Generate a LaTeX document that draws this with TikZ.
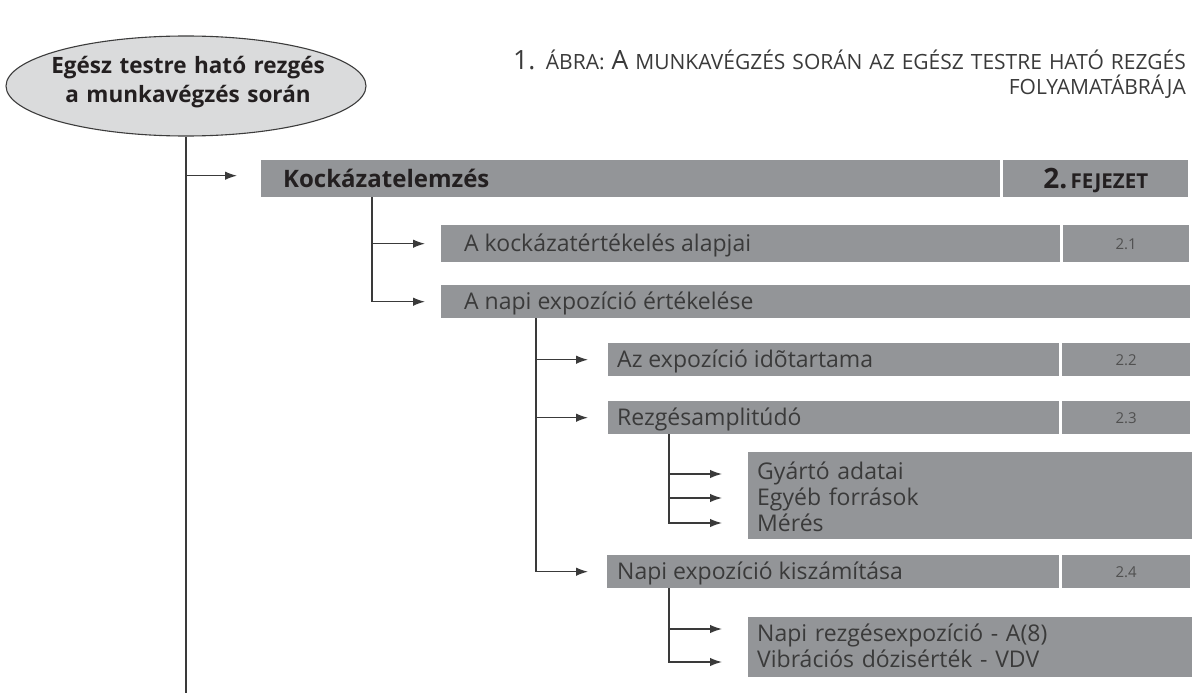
\documentclass[tikz,border=0pt]{standalone}
\usepackage{fontspec}
\setmainfont{Open Sans}
\usetikzlibrary{arrows.meta,shapes.geometric,calc}
\definecolor{boxgray}{HTML}{939598}
\definecolor{ellfill}{HTML}{DADBDC}
\definecolor{ellline}{HTML}{3C3C3C}
\definecolor{linecol}{HTML}{3A3A3A}
\definecolor{txt}{HTML}{3A3A3A}
\definecolor{numtxt}{HTML}{505050}
\definecolor{darktxt}{HTML}{231F20}
\definecolor{titletxt}{HTML}{3A3A3A}
\tikzset{
  gbox/.style={fill=boxgray, draw=none, inner sep=0pt, anchor=north west},
  conn/.style={draw=linecol, line width=1.3pt},
  arr/.style={conn, -{Latex[length=12pt,width=8.5pt]}},
  btxt/.style={font=\fontsize{23}{26}\selectfont, text=txt, inner sep=0pt,
               text height=16pt, text depth=0pt, anchor=west},
  mtxt/.style={font=\fontsize{23}{26}\selectfont, text=txt, inner sep=0pt,
               text width=430pt, align=left, anchor=base west},
  ntxt/.style={font=\fontsize{15}{16}\selectfont, text=numtxt, inner sep=0pt},
}
\begin{document}
\begin{tikzpicture}[x=1pt,y=-1pt]
\useasboundingbox (0,0) rectangle (1195,693);

% root ellipse
\node[ellipse, draw=ellline, line width=1.1pt, fill=ellfill,
      minimum width=360pt, minimum height=100pt, inner sep=0pt] (ell) at (186,86) {};
\node[font=\fontsize{22.5}{29}\selectfont\bfseries, text=darktxt, align=center,
      text width=350pt, anchor=base, inner sep=0pt] (elltxt) at (188,74)
      {Egész testre ható rezgés\\a munkavégzés során};

% title
\node[font=\fontsize{21}{25}\selectfont, text=titletxt, align=right,
      text width=720pt, anchor=base east, inner sep=0pt] (title) at (1186,70)
  {{\fontsize{26.5}{25}\selectfont 1.} ÁBRA: {\fontsize{26.5}{25}\selectfont A} MUNKAVÉGZÉS SORÁN AZ EGÉSZ TESTRE HATÓ REZGÉS\\FOLYAMATÁBRÁJA};

% level 0 box
\node[gbox, minimum width=739pt, minimum height=37pt] (kock) at (261,160) {};
\node[btxt, font=\fontsize{24}{26}\selectfont\bfseries, text=darktxt, text height=17pt] (kocktxt)
  at ([xshift=22pt]kock.west) {Kockázatelemzés};
\node[gbox, minimum width=185pt, minimum height=37pt] (fej) at (1003,160) {};
\node[inner sep=0pt, text=darktxt, font=\bfseries, anchor=base] (fejtxt) at ([yshift=-10pt]fej.center)
  {{\fontsize{28}{28}\selectfont 2.} {\fontsize{20.5}{20}\selectfont FEJEZET}};

% level 1
\node[gbox, minimum width=619pt, minimum height=37pt] (alap) at (441,225) {};
\node[btxt] (alaptxt) at ([xshift=23pt]alap.west) {A kockázatértékelés alapjai};
\node[gbox, minimum width=126pt, minimum height=37pt] (n21) at (1063,225) {};
\node[ntxt] at (n21.center) {2.1};

\node[gbox, minimum width=749pt, minimum height=33pt] (napi) at (441,285) {};
\node[btxt] (napitxt) at ([xshift=23pt]napi.west) {A napi expozíció értékelése};

% level 2
\node[gbox, minimum width=451pt, minimum height=33pt] (expo) at (608,343) {};
\node[btxt] (expotxt) at ([xshift=9pt]expo.west) {Az expozíció idõtartama};
\node[gbox, minimum width=128pt, minimum height=33pt] (n22) at (1062,343) {};
\node[ntxt] at (n22.center) {2.2};

\node[gbox, minimum width=451pt, minimum height=33pt] (rezg) at (608,401) {};
\node[btxt] (rezgtxt) at ([xshift=9pt]rezg.west) {Rezgésamplitúdó};
\node[gbox, minimum width=128pt, minimum height=33pt] (n23) at (1062,401) {};
\node[ntxt] at (n23.center) {2.3};

\node[gbox, minimum width=444pt, minimum height=87pt] (gyar) at (748,452) {};
\node[mtxt] (gyartxt) at (757,479) {Gyártó adatai\\Egyéb források\\Mérés};

\node[gbox, minimum width=452pt, minimum height=33pt] (kisz) at (607,555) {};
\node[btxt] (kisztxt) at ([xshift=10pt]kisz.west) {Napi expozíció kiszámítása};
\node[gbox, minimum width=128pt, minimum height=33pt] (n24) at (1062,555) {};
\node[ntxt] at (n24.center) {2.4};

\node[gbox, minimum width=444pt, minimum height=60pt] (szam) at (748,617) {};
\node[mtxt] (szamtxt) at (757,641) {Napi rezgésexpozíció - A(8)\\Vibrációs dózisérték - VDV};

% connectors
\coordinate (trunkend) at (186,693);
\draw[conn] (ell.south) -- (trunkend);
\draw[arr] ([yshift=3pt]ell.south |- kock.west) -- ([xshift=-24pt,yshift=3pt]kock.west);

\coordinate (b1) at ([xshift=111pt]kock.south west);
\draw[arr] (b1) |- ([xshift=-16pt]alap.west);
\draw[arr] (b1) |- ([xshift=-16pt]napi.west);

\coordinate (b2) at ([xshift=95pt]napi.south west);
\draw[arr] (b2) |- ([xshift=-20pt]expo.west);
\draw[arr] (b2) |- ([xshift=-20pt]rezg.west);
\draw[arr] (b2) |- ([xshift=-19pt]kisz.west);

\coordinate (b3) at ([xshift=61pt]rezg.south west);
\draw[arr] (b3) |- ($(gyar.north west)+(-26,22)$);
\draw[arr] (b3) |- ($(gyar.north west)+(-26,46)$);
\draw[arr] (b3) |- ($(gyar.north west)+(-26,71)$);

\coordinate (b4) at ([xshift=62pt]kisz.south west);
\draw[arr] (b4) |- ($(szam.north west)+(-26,12)$);
\draw[arr] (b4) |- ($(szam.north west)+(-26,45)$);
\end{tikzpicture}
\end{document}
